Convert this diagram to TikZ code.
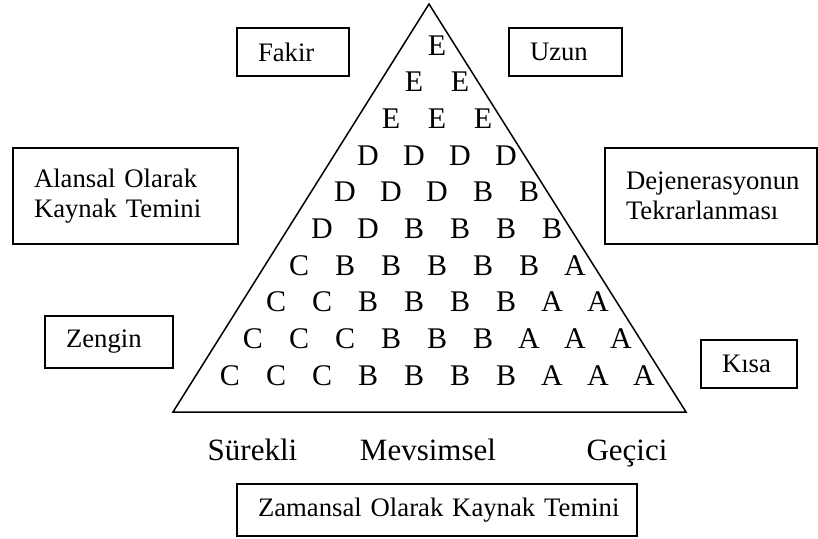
\documentclass[tikz,border=0pt]{standalone}
\usepackage{fontspec}
\setmainfont{Liberation Serif}
\usepackage{tikz}
\usetikzlibrary{positioning,calc}

\begin{document}
\begin{tikzpicture}[
        x=1pt,y=-1pt,
        box/.style={draw,line width=1.5pt,inner xsep=21pt,inner ysep=4pt,align=left,font=\fontsize{26.7}{30}\selectfont},
        letter/.style={anchor=base,inner sep=0pt,font=\fontsize{30}{32}\selectfont},
        timelabel/.style={anchor=base,inner sep=0pt,font=\fontsize{31}{34}\selectfont},
        tri/.style={line width=1.5pt,line join=miter},
    ]
    \useasboundingbox (0,0) rectangle (818,538);

    % pyramid
    \coordinate (apex)  at (429,4);
    \coordinate (left)  at (173,412);
    \coordinate (right) at (686,412);
    \draw[tri] (left) -- (apex) -- (right) -- cycle;

    \foreach \row [count=\r] in {{E},{E,E},{E,E,E},{D,D,D,D},{D,D,D,B,B},{D,D,B,B,B,B},
            {C,B,B,B,B,B,A},{C,C,B,B,B,B,A,A},{C,C,C,B,B,B,A,A,A},{C,C,C,B,B,B,B,A,A,A}}{
        \foreach \ch [count=\c] in \row {
            \node[letter] (l\r-\c) at ({437+(\c-1)*46-(\r-1)*23},{55+(\r-1)*36.67}) {\ch};
        }
    }

    % boxes
    \node[box,text width=70pt,minimum height=48pt]  (fakir)  at (293,52)    {Fakir};
    \node[box,text width=71pt,minimum height=48pt]  (uzun)   at (565.5,52)  {Uzun};
    \node[box,text width=183pt,minimum height=96pt] (alan)   at (125.5,196) {Alansal Olarak\\Kaynak Temini};
    \node[box,text width=170pt,minimum height=96pt] (dejen)  at (711,196)   {\mbox{Dejenerasyonun}\\Tekrarlanması};
    \node[box,text width=86pt,minimum height=52pt]  (zengin) at (109,342)   {Zengin};
    \node[box,text width=54pt,minimum height=48pt]  (kisa)   at (749,364)   {Kısa};
    \node[box,text width=358pt,minimum height=52pt] (zaman)  at (437,510)   {\mbox{Zamansal Olarak Kaynak Temini}};

    % time labels
    \node[timelabel] (surekli)   at (252.5,460) {Sürekli};
    \node[timelabel] (mevsimsel) at (428,460)   {Mevsimsel};
    \node[timelabel] (gecici)    at (627,460)   {Geçici};
\end{tikzpicture}
\end{document}
